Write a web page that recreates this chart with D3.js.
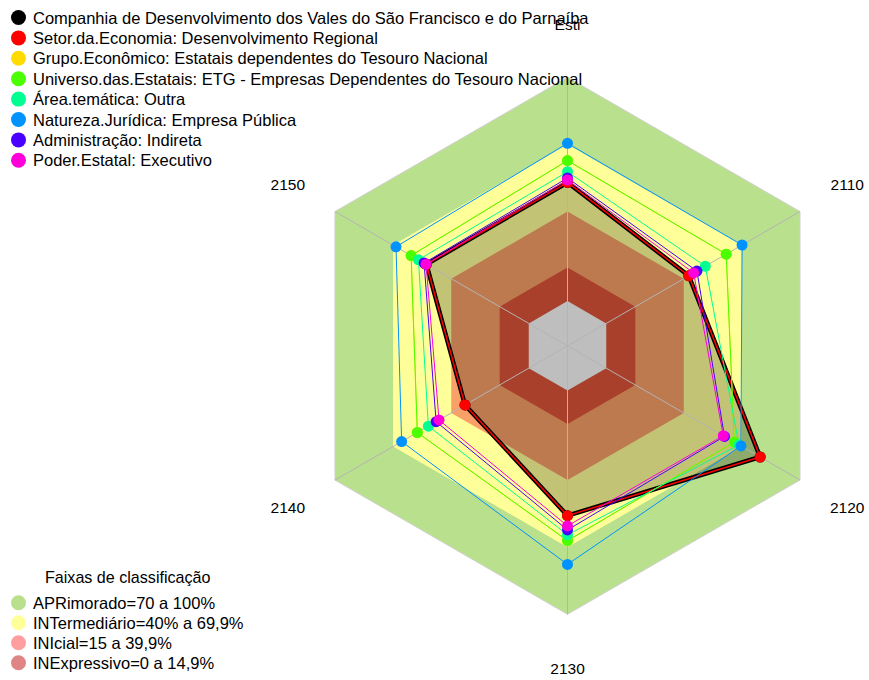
<!DOCTYPE html>
<html>
<head>
<meta charset="utf-8">
<script src="https://cdn.jsdelivr.net/npm/d3@7"></script>
<style>
  html, body { margin: 0; padding: 0; background: #fff; }
  svg { display: block; }
  text { font-family: "Liberation Sans", Arial, sans-serif; fill: #000; }
</style>
</head>
<body>
<div id="chart"></div>
<script>
// ---- data ----
const axes = ["Esti", "2110", "2120", "2130", "2140", "2150"];

const seriesNames = [
  "Companhia de Desenvolvimento dos Vales do São Francisco e do Parnaíba",
  "Setor.da.Economia: Desenvolvimento Regional",
  "Grupo.Econômico: Estatais dependentes do Tesouro Nacional",
  "Universo.das.Estatais: ETG - Empresas Dependentes do Tesouro Nacional",
  "Área.temática: Outra",
  "Natureza.Jurídica: Empresa Pública",
  "Administração: Indireta",
  "Poder.Estatal: Executivo"
];
const seriesColors = ["#000000", "#FF0000", "#FFDB00", "#49FF00", "#00FF92", "#0092FF", "#4900FF", "#FF00DB"];

const companhia   = [53.0, 42.6, 79.4, 55.9, 32.9, 52.8];
const setor       = [53.0, 42.6, 79.4, 55.9, 32.9, 52.8];
const grupo       = [62.8, 61.9, 66.1, 67.1, 57.5, 60.7];
const universo    = [62.8, 61.9, 66.1, 67.1, 57.5, 60.7];
const areaTematica= [57.8, 51.1, 68.5, 64.5, 51.8, 56.9];
const natureza    = [70.5, 70.1, 69.5, 77.7, 65.6, 68.5];
const administracao=[55.0, 46.8, 61.0, 62.3, 47.8, 54.0];
const poder       = [54.1, 45.1, 60.4, 60.5, 46.3, 53.0];
const seriesValues = [companhia, setor, grupo, universo, areaTematica, natureza, administracao, poder];

const bandNames = ["APRimorado=70 a 100%", "INTermediário=40% a 69,9%", "INIcial=15 a 39,9%", "INExpressivo=0 a 14,9%"];
const bandUpper = [100, 70, 40, 15];
const bandFill = ["#B9E08C", "#FFFF99", "#F9A068", "#DC5439"];
const bandLegendColors = ["#B9E08C", "#FFFF99", "#FF9E9E", "#E08585"];
const bandTitle = "Faixas de classificação";

// ---- layout ----
const W = 869, H = 680;
const cx = 567.5, cy = 345.8;
const R = 268.5, r0 = 44.75;
const labelR = 323;

const svg = d3.select("#chart").append("svg").attr("width", W).attr("height", H);

const rScale = d3.scaleLinear().domain([0, 100]).range([r0, R]);
const angle = d3.scaleLinear().domain([0, axes.length]).range([0, 2 * Math.PI]);

const radial = d3.lineRadial()
  .angle((d, i) => angle(i))
  .radius(d => rScale(d))
  .curve(d3.curveLinearClosed);

const g = svg.append("g").attr("transform", `translate(${cx},${cy})`);

// bands
bandUpper.forEach((v, i) => {
  g.append("path")
    .attr("d", radial(axes.map(() => v)))
    .attr("fill", bandFill[i])
    .attr("stroke", i === 0 ? "#d0d0d0" : "none")
    .attr("stroke-width", 1);
});

// first series fill (semi-transparent dark)
g.append("path")
  .attr("d", radial(seriesValues[0]))
  .attr("fill", "rgba(0,0,0,0.235)")
  .attr("stroke", "none");

// center hole
g.append("path")
  .attr("d", radial(axes.map(() => 0)))
  .attr("fill", "#BEBEBE");

// axis lines
axes.forEach((a, i) => {
  const ang = angle(i);
  g.append("line")
    .attr("x1", 0).attr("y1", 0)
    .attr("x2", R * Math.sin(ang)).attr("y2", -R * Math.cos(ang))
    .attr("stroke", "#B4B4B4").attr("stroke-width", 1);
});

// series lines + points
const px = (v, i) => rScale(v) * Math.sin(angle(i));
const py = (v, i) => -rScale(v) * Math.cos(angle(i));

seriesValues.forEach((vals, s) => {
  g.append("path")
    .attr("d", radial(vals))
    .attr("fill", "none")
    .attr("stroke", seriesColors[s])
    .attr("stroke-width", s === 0 ? 4.5 : (s === 1 ? 1.5 : 1))
    .attr("stroke-linejoin", "round");
  g.selectAll(null).data(vals).enter().append("circle")
    .attr("cx", (d, i) => px(d, i))
    .attr("cy", (d, i) => py(d, i))
    .attr("r", 5.5)
    .attr("fill", seriesColors[s]);
});

// axis labels
axes.forEach((a, i) => {
  const ang = angle(i);
  g.append("text")
    .attr("x", labelR * Math.sin(ang))
    .attr("y", -labelR * Math.cos(ang) + (i === 0 ? 2 : 0))
    .attr("text-anchor", "middle")
    .attr("dominant-baseline", "central")
    .style("font-size", "15.5px")
    .text(a);
});

// top legend
const leg = svg.append("g");
seriesNames.forEach((n, i) => {
  const y = 17.5 + i * 20.4;
  leg.append("circle").attr("cx", 18.5).attr("cy", y).attr("r", 7.5).attr("fill", seriesColors[i]);
  leg.append("text").attr("x", 33).attr("y", y).attr("dominant-baseline", "central")
    .style("font-size", "16.5px").text(n);
});

// band legend
const bl = svg.append("g");
bl.append("text").attr("x", 45).attr("y", 577).attr("dominant-baseline", "central")
  .style("font-size", "16.1px").text(bandTitle);
bandNames.forEach((n, i) => {
  const y = 602.7 + i * 20;
  bl.append("circle").attr("cx", 18.5).attr("cy", y).attr("r", 7.5).attr("fill", bandLegendColors[i]);
  bl.append("text").attr("x", 33).attr("y", y).attr("dominant-baseline", "central")
    .style("font-size", "16.5px").text(n);
});
</script>
</body>
</html>
